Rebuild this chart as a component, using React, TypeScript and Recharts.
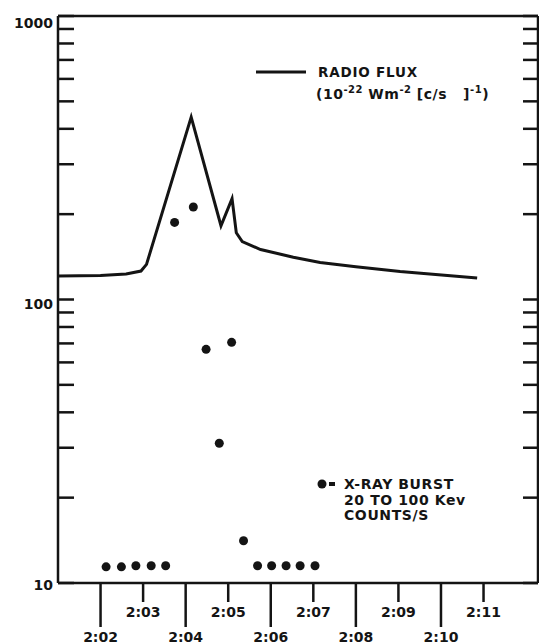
import { ComposedChart, Line, Scatter, XAxis, YAxis } from "recharts";

// minutes after 2:00
const RADIO_T = [1.0, 2.0, 2.6, 2.95, 3.08, 4.13, 4.83, 5.09, 5.19, 5.33, 5.76, 6.53, 7.16, 8.0, 9.04, 10.85];
const RADIO_FLUX = [121, 121.5, 123, 126, 133, 440, 182, 227, 172, 160, 150, 141, 135, 130.5, 125.5, 119];

const XRAY_T = [2.13, 2.49, 2.83, 3.19, 3.53, 3.74, 4.18, 4.48, 4.79, 5.08, 5.36, 5.69, 6.02, 6.36, 6.69, 7.04];
const XRAY_COUNTS = [11.4, 11.4, 11.5, 11.5, 11.5, 187, 212, 66.7, 31.1, 70.6, 14.1, 11.5, 11.5, 11.5, 11.5, 11.5];

const TIME_TICKS = [2, 3, 4, 5, 6, 7, 8, 9, 10, 11];
const TIME_LABELS = ["2:02", "2:03", "2:04", "2:05", "2:06", "2:07", "2:08", "2:09", "2:10", "2:11"];
const Y_TICKS = [10, 20, 30, 40, 50, 60, 70, 80, 90, 100, 200, 300, 400, 500, 600, 700, 800, 900, 1000];
const Y_LABELS: Record<number, string> = { 10: "10", 100: "100", 1000: "1000" };

const INK = "#141414";
const FONT = "'DejaVu Sans', sans-serif";

const radio = RADIO_T.map((t, i) => ({ t, flux: RADIO_FLUX[i] }));
const xray = XRAY_T.map((t, i) => ({ t, counts: XRAY_COUNTS[i] }));

function LeftTick({ x, y, payload }: any) {
  const label = Y_LABELS[payload.value];
  const dy = payload.value === 1000 ? 7 : payload.value === 100 ? 4 : 2;
  return (
    <g>
      <line x1={x} x2={x + 16} y1={y} y2={y} stroke={INK} strokeWidth={2.5} />
      {label && (
        <text x={x - 5} y={y + dy} textAnchor="end" dominantBaseline="central"
          fontFamily={FONT} fontWeight="bold" fontSize={14} fill={INK}>
          {label}
        </text>
      )}
    </g>
  );
}

function RightTick({ x, y }: any) {
  return <line x1={x} x2={x - 15} y1={y} y2={y} stroke={INK} strokeWidth={2.5} />;
}

function TimeTick({ x, y, payload, index }: any) {
  const long = payload.value % 2 === 0;
  const len = long ? 44 : 19;
  return (
    <g>
      <line x1={x} x2={x} y1={y} y2={y + len} stroke={INK} strokeWidth={2.5} />
      <text x={x} y={y + len + 10} textAnchor="middle" dominantBaseline="central"
        fontFamily={FONT} fontWeight="bold" fontSize={14} fill={INK}>
        {TIME_LABELS[index] ?? ""}
      </text>
    </g>
  );
}

export default function App() {
  const axisLine = { stroke: INK, strokeWidth: 2.5 };
  return (
    <div style={{ position: "absolute", left: 0, top: 0, width: 539, height: 644, background: "#fff" }}>
      <ComposedChart width={539} height={644} margin={{ top: 15, right: 0, bottom: 0, left: 0 }}>
        <XAxis xAxisId="b" type="number" dataKey="t" domain={[1, 12.28]} ticks={TIME_TICKS}
          allowDataOverflow height={61} tickSize={0} tickMargin={0} tickLine={false}
          axisLine={axisLine} tick={<TimeTick />} interval={0} />
        <XAxis xAxisId="top" orientation="top" type="number" domain={[1, 12.28]} height={1}
          ticks={TIME_TICKS} tick={() => <g />} tickLine={false} axisLine={axisLine} />
        <YAxis yAxisId="l" type="number" scale="log" domain={[10, 1000]} allowDataOverflow
          ticks={Y_TICKS} width={58} tickSize={0} tickMargin={0} tickLine={false}
          axisLine={axisLine} tick={<LeftTick />} interval={0} />
        <YAxis yAxisId="r" orientation="right" type="number" scale="log" domain={[10, 1000]}
          allowDataOverflow ticks={Y_TICKS} width={1} tickSize={0} tickMargin={0}
          tickLine={false} axisLine={axisLine} tick={<RightTick />} interval={0} />
        <Line xAxisId="b" yAxisId="l" data={radio} dataKey="flux" type="linear" stroke={INK}
          strokeWidth={3} dot={false} isAnimationActive={false} />
        <Scatter xAxisId="b" yAxisId="l" data={xray} dataKey="counts" isAnimationActive={false}
          shape={(p: any) => <circle cx={p.cx} cy={p.cy} r={4.5} fill={INK} />} />
      </ComposedChart>
      <svg width={539} height={644} style={{ position: "absolute", left: 0, top: 0, pointerEvents: "none" }}>
        <g fontFamily={FONT} fontWeight="bold" fill={INK}>
          <line x1={256} x2={306} y1={72} y2={72} stroke={INK} strokeWidth={3} />
          <text x={318} y={72} fontSize={13.5} letterSpacing={0.8} dominantBaseline="central">RADIO FLUX</text>
          <text x={316} y={94} fontSize={14} letterSpacing={0.5} dominantBaseline="central" style={{ whiteSpace: "pre" }}>
            (10<tspan fontSize={10} dy={-5}>-22</tspan>
            <tspan dy={5}> Wm</tspan>
            <tspan fontSize={10} dy={-5}>-2</tspan>
            <tspan dy={5}> [c/s   ]</tspan>
            <tspan fontSize={10} dy={-5}>-1</tspan>
            <tspan dy={5}>)</tspan>
          </text>
          <circle cx={322} cy={484} r={4.5} />
          <rect x={329} y={482} width={6} height={4} />
          <text x={344} y={484} fontSize={14} letterSpacing={0.6} dominantBaseline="central">X-RAY BURST</text>
          <text x={344} y={500} fontSize={14} letterSpacing={0.6} dominantBaseline="central">20 TO 100 Kev</text>
          <text x={344} y={515} fontSize={14} letterSpacing={0.6} dominantBaseline="central">COUNTS/S</text>
        </g>
      </svg>
    </div>
  );
}
